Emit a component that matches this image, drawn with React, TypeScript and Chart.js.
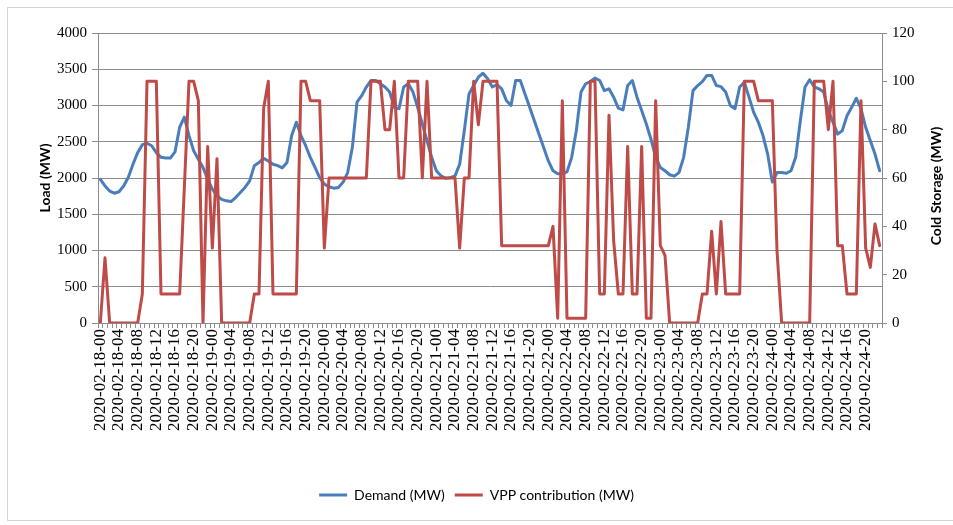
import React, { useEffect, useRef } from 'react';
import { Chart, registerables } from 'chart.js';

Chart.register(...registerables);

// ---- Data ----
const DAYS = ['2020-02-18', '2020-02-19', '2020-02-20', '2020-02-21', '2020-02-22', '2020-02-23', '2020-02-24'];
const HOURS = ['00', '01', '02', '03', '04', '05', '06', '07', '08', '09', '10', '11',
  '12', '13', '14', '15', '16', '17', '18', '19', '20', '21', '22', '23'];
const CATEGORIES = DAYS.flatMap((d) => HOURS.map((h) => `${d}-${h}`));

// Demand (MW), left axis
const DEMAND = [
  // 18
  1980, 1890, 1820, 1790, 1810, 1890, 2010, 2190, 2350, 2460, 2480, 2445,
  2350, 2285, 2275, 2275, 2360, 2700, 2840, 2585, 2375, 2260, 2145, 1985,
  // 19
  1845, 1755, 1705, 1685, 1675, 1730, 1800, 1870, 1960, 2170, 2215, 2270,
  2235, 2190, 2170, 2140, 2215, 2585, 2770, 2585, 2445, 2285, 2145, 2005,
  // 20
  1915, 1880, 1860, 1870, 1940, 2075, 2420, 3045, 3135, 3255, 3345, 3345,
  3300, 3255, 3185, 2975, 2955, 3255, 3300, 3185, 2975, 2745, 2515, 2285,
  // 21
  2100, 2030, 1995, 2005, 2030, 2190, 2655, 3160, 3275, 3390, 3445, 3370,
  3255, 3290, 3230, 3070, 3000, 3345, 3345, 3160, 2975, 2790, 2605, 2420,
  // 22
  2235, 2100, 2060, 2060, 2085, 2285, 2655, 3185, 3300, 3330, 3380, 3345,
  3205, 3230, 3115, 2965, 2940, 3275, 3345, 3115, 2930, 2745, 2535, 2285,
  // 23
  2145, 2100, 2045, 2025, 2075, 2285, 2700, 3205, 3275, 3330, 3415, 3415,
  3275, 3260, 3185, 3000, 2955, 3255, 3320, 3115, 2905, 2770, 2585, 2330,
  // 24
  1945, 2075, 2075, 2065, 2100, 2285, 2790, 3255, 3355, 3255, 3230, 3185,
  2930, 2770, 2605, 2655, 2860, 2975, 3100, 2955, 2700, 2515, 2330, 2100,
];

// VPP contribution (MW), right axis (Cold Storage)
const VPP = [
  // 18
  0, 27, 0, 0, 0, 0, 0, 0, 0, 12, 100, 100,
  100, 12, 12, 12, 12, 12, 56, 100, 100, 92, 0, 73,
  // 19
  31, 68, 0, 0, 0, 0, 0, 0, 0, 12, 12, 89,
  100, 12, 12, 12, 12, 12, 12, 100, 100, 92, 92, 92,
  // 20
  31, 60, 60, 60, 60, 60, 60, 60, 60, 60, 100, 100,
  100, 80, 80, 100, 60, 60, 100, 100, 100, 60, 100, 60,
  // 21
  60, 60, 60, 60, 60, 31, 60, 60, 100, 82, 100, 100,
  100, 100, 32, 32, 32, 32, 32, 32, 32, 32, 32, 32,
  // 22
  32, 40, 2, 92, 2, 2, 2, 2, 2, 100, 100, 12,
  12, 86, 34, 12, 12, 73, 12, 12, 73, 2, 2, 92,
  // 23
  32, 28, 0, 0, 0, 0, 0, 0, 0, 12, 12, 38,
  12, 42, 12, 12, 12, 12, 100, 100, 100, 92, 92, 92,
  // 24
  92, 30, 0, 0, 0, 0, 0, 0, 0, 100, 100, 100,
  80, 100, 32, 32, 12, 12, 12, 92, 31, 23, 41, 32,
];

const SERIES_NAMES = ['Demand (MW)', 'VPP contribution (MW)'];
const LEFT_AXIS_TITLE = 'Load (MW)';
const RIGHT_AXIS_TITLE = 'Cold Storage (MW)';
const LEFT_TICKS = { min: 0, max: 4000, step: 500 };
const RIGHT_TICKS = { min: 0, max: 120, step: 20 };
const LABEL_EVERY = 4;

const W = 953;
const H = 525;
const GRID = '#8c8c8c';
const BLUE = '#4A7EBB';
const RED = '#BE4B48';
const SERIF = "'Liberation Serif', 'Times New Roman', serif";

export default function App() {
  const ref = useRef<HTMLCanvasElement>(null);

  useEffect(() => {
    const rightTitle = {
      id: 'rightTitle',
      afterDraw(chart: any) {
        const ctx = chart.ctx as CanvasRenderingContext2D;
        ctx.save();
        ctx.font = 'bold 14px Lato';
        ctx.fillStyle = '#000';
        ctx.textAlign = 'center';
        ctx.textBaseline = 'middle';
        ctx.translate(936, 186);
        ctx.rotate(-Math.PI / 2);
        ctx.fillText(RIGHT_AXIS_TITLE, 0, 0);
        ctx.restore();
      },
    };

    const chart = new Chart(ref.current as HTMLCanvasElement, {
      type: 'line',
      data: {
        labels: CATEGORIES,
        datasets: [
          {
            label: SERIES_NAMES[0],
            data: DEMAND,
            borderColor: BLUE,
            backgroundColor: BLUE,
            borderWidth: 3,
            pointRadius: 0,
            borderJoinStyle: 'round',
            borderCapStyle: 'round',
            tension: 0,
            yAxisID: 'y',
            order: 1,
          },
          {
            label: SERIES_NAMES[1],
            data: VPP,
            borderColor: RED,
            backgroundColor: RED,
            borderWidth: 3,
            pointRadius: 0,
            borderJoinStyle: 'round',
            borderCapStyle: 'round',
            tension: 0,
            yAxisID: 'y1',
            order: 0,
          },
        ],
      },
      options: {
        responsive: false,
        animation: false,
        layout: { padding: { top: 33, bottom: 13, left: 0, right: 0 } },
        plugins: {
          legend: {
            position: 'bottom',
            labels: {
              usePointStyle: true,
              pointStyle: 'line',
              pointStyleWidth: 28,
              boxHeight: 14,
              padding: 10,
              color: '#000',
              font: { family: 'Lato', size: 14 },
              sort: (a: any, b: any) => a.datasetIndex - b.datasetIndex,
            },
          },
          tooltip: { enabled: false },
          title: { display: false },
        },
        scales: {
          x: {
            type: 'category',
            offset: true,
            grid: {
              offset: true,
              drawOnChartArea: false,
              drawTicks: true,
              tickLength: 5,
              color: GRID,
            },
            border: { display: true, color: GRID },
            ticks: {
              autoSkip: false,
              minRotation: 90,
              maxRotation: 90,
              padding: 1,
              color: '#000',
              font: { family: SERIF, size: 17 },
              callback: (_v: any, i: number) => (i % LABEL_EVERY === 0 ? CATEGORIES[i] : ''),
            },
            afterFit: (s: any) => {
              s.height = 155;
            },
          },
          y: {
            position: 'left',
            min: LEFT_TICKS.min,
            max: LEFT_TICKS.max,
            grid: { color: GRID, tickLength: 6, drawTicks: true },
            border: { display: true, color: GRID },
            ticks: {
              stepSize: LEFT_TICKS.step,
              padding: 5,
              color: '#000',
              font: { family: SERIF, size: 15 },
              callback: (v: any) => String(v),
            },
            title: {
              display: true,
              text: LEFT_AXIS_TITLE,
              color: '#000',
              font: { family: 'Lato', size: 14, weight: 'bold' },
              padding: { top: 37, bottom: 0 },
            },
            afterFit: (s: any) => {
              s.width = 98;
            },
          },
          y1: {
            position: 'right',
            min: RIGHT_TICKS.min,
            max: RIGHT_TICKS.max,
            grid: { drawOnChartArea: false, color: GRID, tickLength: 5, drawTicks: true },
            border: { display: true, color: GRID },
            ticks: {
              stepSize: RIGHT_TICKS.step,
              padding: 5,
              color: '#000',
              font: { family: SERIF, size: 15 },
              callback: (v: any) => String(v),
            },
            afterFit: (s: any) => {
              s.width = W - 882;
            },
          },
        },
      } as any,
      plugins: [rightTitle],
    });
    return () => chart.destroy();
  }, []);

  return (
    <div style={{ position: 'fixed', left: 0, top: 0, width: W, height: H, background: '#fff', overflow: 'hidden' }}>
      <div
        style={{
          position: 'absolute',
          left: 7,
          top: 7,
          width: W,
          height: 514,
          border: '1px solid #d4d4d4',
          boxSizing: 'border-box',
        }}
      />
      <canvas ref={ref} width={W} height={H} style={{ position: 'absolute', left: 0, top: 0 }} />
    </div>
  );
}
